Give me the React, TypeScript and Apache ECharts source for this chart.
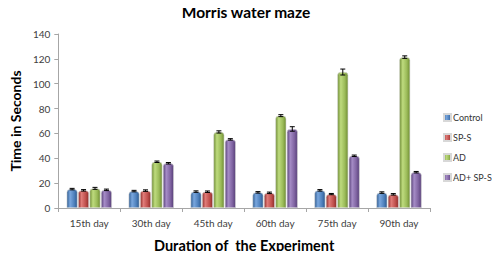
import React, { useEffect, useRef } from "react";
import * as echarts from "echarts";

const categories = ["15th day", "30th day", "45th day", "60th day", "75th day", "90th day"];
const seriesNames = ["Control", "SP-S", "AD", "AD+ SP-S"];
const controlValues = [15.2, 13.6, 13.2, 12.6, 14.2, 12.4];
const spsValues = [14.2, 14.0, 13.1, 12.2, 11.2, 11.0];
const adValues = [15.8, 37.2, 61.2, 74.3, 109.4, 121.4];
const adSpsValues = [14.6, 36.0, 55.2, 63.6, 42.0, 28.8];
const controlErr = [0.6, 0.6, 0.6, 0.6, 0.6, 0.6];
const spsErr = [0.6, 0.6, 0.6, 0.6, 0.5, 0.6];
const adErr = [0.8, 0.6, 0.9, 0.8, 2.4, 1.0];
const adSpsErr = [0.6, 0.6, 0.6, 1.8, 0.6, 0.6];
const yTicks = [0, 20, 40, 60, 80, 100, 120, 140];

const allValues = [controlValues, spsValues, adValues, adSpsValues];
const allErrs = [controlErr, spsErr, adErr, adSpsErr];
const baseColors = ["#4F81BD", "#C0504D", "#9BBB59", "#8064A2"];
const darkColors = ["#2C5A8F", "#8E2D2A", "#6E8C32", "#573F78"];
const lightColors = ["#7AA7DE", "#E07C79", "#BEDB7E", "#A58CC6"];

const CAT_GAP = 0.27;
const BAR_GAP = 0.05;
const FONT = "Lato, 'Open Sans', sans-serif";

export default function App() {
  const ref = useRef<HTMLDivElement>(null);
  useEffect(() => {
    if (!ref.current) return;
    const chart = echarts.init(ref.current, null, { renderer: "svg" });
    const barSeries = seriesNames.map((name, i) => ({
      name,
      type: "bar",
      data: allValues[i],
      barGap: BAR_GAP * 100 + "%",
      barCategoryGap: CAT_GAP * 100 + "%",
      itemStyle: {
        color: {
          type: "linear",
          x: 0,
          y: 0,
          x2: 1,
          y2: 0,
          colorStops: [
            { offset: 0, color: darkColors[i] },
            { offset: 0.3, color: lightColors[i] },
            { offset: 0.7, color: baseColors[i] },
            { offset: 1, color: darkColors[i] },
          ],
        },
        borderColor: "#D8D8D8",
        borderWidth: 0.6,
        borderRadius: [3, 3, 0, 0],
      },
    }));
    const errData: number[][] = [];
    allValues.forEach((vals, si) => {
      vals.forEach((v, ci) => errData.push([ci, v, allErrs[si][ci], si]));
    });
    const errSeries = {
      type: "custom",
      name: "err",
      z: 10,
      encode: { x: 0, y: 1 },
      data: errData,
      renderItem: (params: any, api: any) => {
        const ci = api.value(0);
        const v = api.value(1);
        const e = api.value(2);
        const si = api.value(3);
        const catW = api.size([1, 0])[0];
        const band = catW * (1 - CAT_GAP);
        const barW = band / (4 + 3 * BAR_GAP);
        const center = api.coord([ci, v]);
        const x = center[0] - band / 2 + barW * (si + 0.5) + si * BAR_GAP * barW;
        const top = api.coord([ci, v + e])[1];
        const bot = api.coord([ci, v - e])[1];
        const cap = 2.5;
        const style = { stroke: "#000", lineWidth: 1 };
        return {
          type: "group",
          children: [
            { type: "line", shape: { x1: x, y1: top, x2: x, y2: bot }, style },
            { type: "line", shape: { x1: x - cap, y1: top, x2: x + cap, y2: top }, style },
            { type: "line", shape: { x1: x - cap, y1: bot, x2: x + cap, y2: bot }, style },
          ],
        };
      },
    };
    chart.setOption({
      animation: false,
      textStyle: { fontFamily: FONT },
      graphic: [
        {
          type: "text",
          x: 246,
          y: 4,
          style: {
            text: "Morris water maze",
            textAlign: "center",
            textVerticalAlign: "top",
            fontFamily: FONT,
            fontSize: 15.5,
            fontWeight: "bold",
            fill: "#000",
          },
        },
      ],
      legend: {
        data: seriesNames,
        orient: "vertical",
        left: 443,
        top: 113,
        padding: 0,
        itemGap: 11,
        itemWidth: 7,
        itemHeight: 7,
        textStyle: {
          fontFamily: FONT,
          fontSize: 9,
          color: "#333",
          padding: [0, 0, 0, -3],
        },
        icon: "rect",
      },
      grid: { left: 54, right: 70, top: 34, bottom: 51, containLabel: false },
      xAxis: {
        type: "category",
        data: categories,
        name: "Duration of  the Experiment",
        nameLocation: "middle",
        nameGap: 30,
        nameTextStyle: { fontFamily: FONT, fontSize: 14.5, fontWeight: "bold", color: "#000" },
        axisLine: { lineStyle: { color: "#A6A6A6" } },
        axisTick: { show: true, length: 4, lineStyle: { color: "#A6A6A6" } },
        axisLabel: { fontFamily: FONT, fontSize: 10, color: "#404040", margin: 10 },
      },
      yAxis: {
        type: "value",
        min: 0,
        max: 140,
        interval: 20,
        name: "Time in Seconds",
        nameLocation: "middle",
        nameGap: 34,
        nameTextStyle: { fontFamily: FONT, fontSize: 14, fontWeight: "bold", color: "#000" },
        axisLine: { show: true, lineStyle: { color: "#A6A6A6" } },
        axisTick: { show: true, length: 4, lineStyle: { color: "#A6A6A6" } },
        splitLine: { show: false },
        axisLabel: {
          fontFamily: FONT,
          fontSize: 10,
          color: "#404040",
          margin: 8,
          formatter: (v: number) => (yTicks.includes(v) ? String(v) : ""),
        },
      },
      series: [...barSeries, errSeries],
    });
    return () => chart.dispose();
  }, []);
  return <div ref={ref} style={{ width: 500, height: 259, margin: -8 }} />;
}
